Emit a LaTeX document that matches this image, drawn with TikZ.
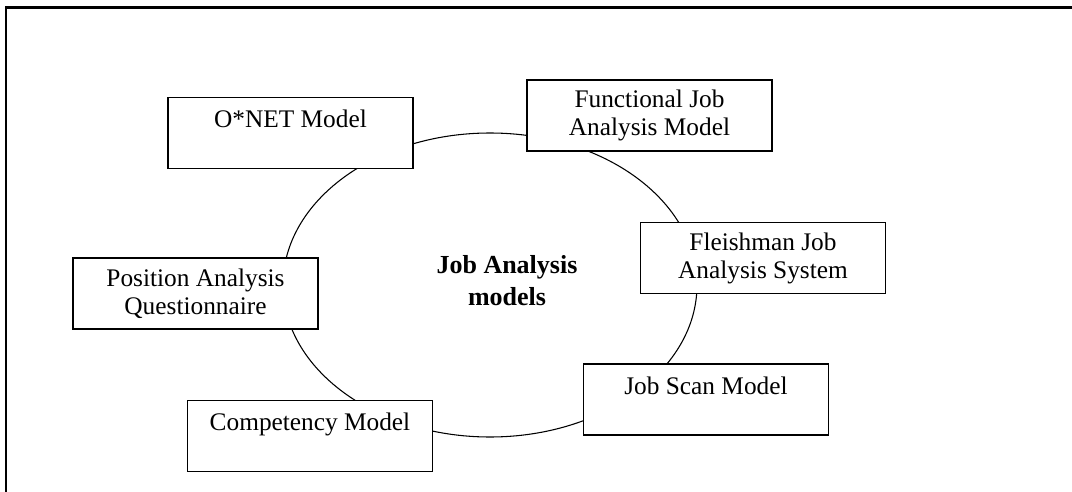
\documentclass[tikz,border=0pt]{standalone}
\usepackage{fontspec}
\setmainfont{Liberation Serif}
\usetikzlibrary{positioning}

\begin{document}
\begin{tikzpicture}[x=0.75pt,y=-0.75pt,every node/.style={outer sep=0pt},
 model/.style={draw,line width=1.1pt,fill=white,minimum width=184pt,minimum height=53pt,
 align=center,font=\fontsize{19}{21}\selectfont},
 hub/.style={align=center,font=\fontsize{19.5}{24}\selectfont\bfseries},
 frame/.style={line width=1.6pt}]

\useasboundingbox (0,0) rectangle (1072,492);
\draw[frame] (6,492) -- (6,7.5) -- (1072,7.5);

\node[hub] (jam) at (507,281) {Job Analysis\\models};
\coordinate (ring) at (490,285);
\draw[thick] (ring) ellipse [x radius=155.25pt,y radius=114pt];

\node[model] (onet) at (290.5,133) {O*NET Model\\\mbox{}};
\node[model] (fja) at (649.5,115.5) {Functional Job\\Analysis Model};
\node[model] (fjas) at (763,258) {Fleishman Job\\Analysis System};
\node[model] (paq) at (195.5,293.5) {Position Analysis\\Questionnaire};
\node[model] (comp) at (310,436) {Competency Model\\\mbox{}};
\node[model] (scan) at (706,399.5) {Job Scan Model\\\mbox{}};

\end{tikzpicture}
\end{document}
